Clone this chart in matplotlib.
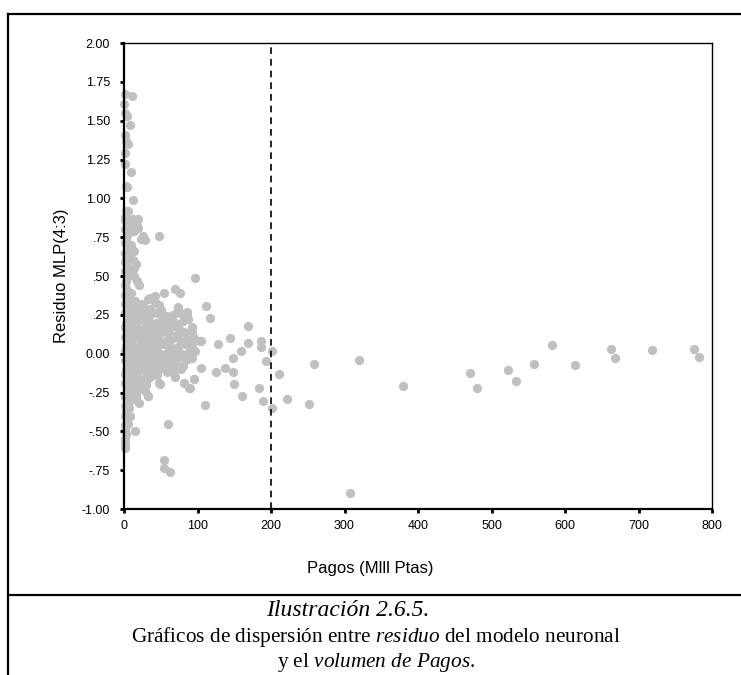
import matplotlib
matplotlib.use("Agg")
import matplotlib.pyplot as plt
from matplotlib.lines import Line2D
import numpy as np

plt.rcParams['font.family'] = ['Liberation Sans', 'DejaVu Sans']
plt.rcParams['mathtext.fontset'] = 'custom'
plt.rcParams['mathtext.rm'] = 'Liberation Serif'
plt.rcParams['mathtext.it'] = 'Liberation Serif:italic'

# puntos pegados al eje (Pagos ~ 0)
pagos_eje = [1, 2, 1, 3, 1, 2, 4, 1, 3, 2, 5, 1, 3, 6, 2, 4, 1, 3, 5, 2, 4, 1, 3, 5, 2,
             4, 1, 3, 5, 2, 4, 1, 3, 2, 4, 1, 3, 5, 2, 4, 1, 3, 2, 5, 1, 3, 6, 2, 4, 1, 3,
             7, 8, 6, 9, 12,
             1, 11, 0.5, 1, 4, 8, 1, 3, 5, 2, 1, 9, 3, 4, 12, 5, 2, 12, 19, 8, 18, 14,
             26, 48, 28, 23, 8, 19, 10, 14, 8, 12, 16, 14, 14, 20, 96, 11, 18, 6]
residuo_eje = [-0.61, -0.58, -0.55, -0.52, -0.49, -0.46, -0.43, -0.40, -0.37, -0.34, -0.31,
               -0.28, -0.25, -0.22, -0.19, -0.16, -0.13, -0.10, -0.07, -0.04, -0.01, 0.02,
               0.05, 0.08, 0.11, 0.14, 0.17, 0.20, 0.23, 0.26, 0.29, 0.32, 0.35, 0.38, 0.41,
               0.44, 0.47, 0.50, 0.53, 0.56, 0.59, 0.62, 0.65, 0.68, 0.71, 0.74, 0.77, 0.80,
               0.84, 0.88, 0.92,
               -0.35, -0.40, -0.45, -0.30, -0.26,
               1.67, 1.66, 1.61, 1.55, 1.53, 1.47, 1.41, 1.37, 1.35, 1.29, 1.22, 1.17, 1.08,
               1.07, 0.99, 0.92, 0.86, 0.87, 0.87, 0.82, 0.82, 0.79, 0.76, 0.76, 0.73, 0.74,
               0.80, 0.81, 0.70, 0.66, 0.63, 0.60, 0.58, 0.55, 0.50, 0.44, 0.485, 0.52, 0.47,
               0.68]

# nube densa (Pagos < 100)
pagos_nube = [8, 15, 24, 33, 42,
              10, 18, 27, 36, 50, 74,
              7, 14, 22, 31, 40, 58, 66, 76, 86,
              9, 17, 25, 34, 44, 52, 62, 70, 80,
              6, 13, 21, 29, 38, 47, 56, 66, 75, 92,
              10, 18, 26, 35, 43, 52, 61, 72, 82, 90,
              7, 15, 23, 31, 40, 49, 58, 67, 77, 86, 95,
              11, 19, 28, 36, 45, 54, 63, 73, 83, 92,
              8, 16, 24, 33, 42, 51, 60, 69, 79, 88, 97,
              12, 20, 29, 38, 47, 56, 65, 75, 84, 93,
              9, 17, 26, 35, 44, 53, 62, 71, 80,
              13, 21, 30, 39, 48, 58, 68, 77,
              10, 18, 27, 36, 45, 69, 95,
              14, 22, 30, 48, 82,
              11, 19, 28, 89,
              9, 16, 33,
              69, 76, 54, 42, 35, 74, 86, 87, 48, 64, 46, 30, 21, 17, 10, 8,
              12, 20, 29, 38, 11, 24, 33, 46, 8, 17, 26, 36, 52, 13, 22, 31, 42, 57,
              9, 19, 28, 39, 49, 14, 23, 34, 44, 10, 20, 30, 41, 15, 25, 7, 16]
residuo_nube = [0.33, 0.34, 0.32, 0.35, 0.33,
                0.29, 0.28, 0.30, 0.29, 0.28, 0.30,
                0.25, 0.26, 0.24, 0.25, 0.26, 0.24, 0.25, 0.26, 0.24,
                0.21, 0.20, 0.22, 0.21, 0.20, 0.22, 0.21, 0.20, 0.21,
                0.17, 0.18, 0.16, 0.17, 0.18, 0.16, 0.17, 0.18, 0.16, 0.17,
                0.13, 0.12, 0.14, 0.13, 0.12, 0.14, 0.13, 0.12, 0.14, 0.13,
                0.09, 0.10, 0.08, 0.09, 0.10, 0.08, 0.09, 0.10, 0.08, 0.09, 0.10,
                0.05, 0.04, 0.06, 0.05, 0.04, 0.06, 0.05, 0.04, 0.06, 0.05,
                0.01, 0.02, 0.00, 0.01, 0.02, 0.00, 0.01, 0.02, 0.00, 0.01, 0.02,
                -0.03, -0.02, -0.04, -0.03, -0.02, -0.04, -0.03, -0.02, -0.04, -0.03,
                -0.07, -0.06, -0.08, -0.07, -0.06, -0.08, -0.07, -0.06, -0.08,
                -0.11, -0.10, -0.12, -0.11, -0.10, -0.12, -0.11, -0.10,
                -0.15, -0.14, -0.16, -0.15, -0.14, -0.15, -0.16,
                -0.19, -0.18, -0.20, -0.19, -0.19,
                -0.23, -0.22, -0.24, -0.22,
                -0.27, -0.28, -0.27,
                0.415, 0.389, 0.389, 0.374, 0.357, 0.281, 0.27, 0.221, 0.313, 0.238, 0.26,
                0.196, 0.238, 0.324, 0.389, 0.303,
                0.31, 0.31, 0.27, 0.27, 0.23, 0.23, 0.23, 0.19, 0.19, 0.19, 0.15, 0.15,
                0.15, 0.11, 0.11, 0.11, 0.07, 0.07, 0.03, 0.03, 0.03, -0.01, -0.01, -0.01,
                -0.05, -0.05, -0.05, -0.09, -0.09, -0.09, -0.13, -0.13, -0.17, -0.21, -0.25]

# puntos dispersos
pagos_disp = [169, 144, 128, 169, 187, 187, 202, 159, 148, 193, 105, 137, 125, 148, 211,
              105, 92, 103, 89, 112, 117,
              201, 189, 184, 161, 149, 222, 252, 258, 110, 95, 90, 82, 49, 30, 69, 33, 21,
              60, 15, 55, 55, 62,
              308, 320, 380, 471, 480, 523, 533, 558, 582, 614, 663, 668, 718, 776, 782]
residuo_disp = [0.18, 0.099, 0.06, 0.067, 0.084, 0.045, 0.017, 0.019, -0.026, -0.047, 0.084,
                -0.09, -0.116, -0.116, -0.131, -0.094, 0.142, 0.084, 0.12, 0.307, 0.232,
                -0.35, -0.305, -0.223, -0.272, -0.197, -0.29, -0.323, -0.067, -0.328, -0.16,
                -0.221, -0.19, -0.197, -0.19, -0.148, -0.272, -0.32, -0.453, -0.496, -0.686,
                -0.736, -0.762,
                -0.90, -0.04, -0.208, -0.124, -0.223, -0.107, -0.174, -0.066, 0.056, -0.075,
                0.032, -0.026, 0.024, 0.032, -0.019]

ytick_vals = [-1.0, -0.75, -0.5, -0.25, 0.0, 0.25, 0.5, 0.75, 1.0, 1.25, 1.5, 1.75, 2.0]
ytick_labels = ['-1.00', '-.75', '-.50', '-.25', '0.00', '.25', '.50', '.75',
                '1.00', '1.25', '1.50', '1.75', '2.00']
xtick_vals = [0, 100, 200, 300, 400, 500, 600, 700, 800]

pagos = np.array(pagos_eje + pagos_nube + pagos_disp)
residuo = np.array(residuo_eje + residuo_nube + residuo_disp)

W, H = 741, 675
fig = plt.figure(figsize=(W / 100, H / 100), dpi=100)
ax = fig.add_axes([124 / W, 1 - 509 / H, 588 / W, 466 / H])

ax.scatter(pagos, residuo, s=44, c='#c0c0c0', marker='o', linewidths=0,
           clip_on=False, zorder=1)
ax.axvline(200, color='black', lw=1.2, ls=(0, (4, 3)), zorder=3)

ax.set_xlim(0, 800)
ax.set_ylim(-1, 2)
ax.set_yticks(ytick_vals)
ax.set_yticklabels(ytick_labels)
ax.set_xticks(xtick_vals)
ax.tick_params(axis='both', direction='out', length=3, width=2, labelsize=9,
               color='black')
ax.tick_params(axis='y', pad=7)
ax.tick_params(axis='x', pad=5)
for side in ['left', 'bottom']:
    ax.spines[side].set_linewidth(1.6)
for side in ['top', 'right']:
    ax.spines[side].set_linewidth(1.0)

ax.set_ylabel('Residuo MLP(4:3)', fontsize=12)
ax.yaxis.set_label_coords((69 - 124) / 588, 0.5)
ax.set_xlabel('Pagos (Mlll Ptas)', fontsize=12)
ax.xaxis.set_label_coords((370 - 124) / 588, -52 / 466)

# marco de la figura
fig.add_artist(Line2D([8 / W, 8 / W], [1 - 14 / H, 0], transform=fig.transFigure,
                      color='black', lw=1.6))
fig.add_artist(Line2D([8 / W, 1], [1 - 14 / H, 1 - 14 / H], transform=fig.transFigure,
                      color='black', lw=1.6))
fig.add_artist(Line2D([8 / W, 1], [1 - 595 / H, 1 - 595 / H], transform=fig.transFigure,
                      color='black', lw=1.6))

serif = ['Liberation Serif', 'DejaVu Serif']
fig.text(348 / W, 1 - 610 / H, 'Ilustración 2.6.5.', family=serif, style='italic',
         fontsize=17, ha='center', va='center')
fig.text(376 / W, 1 - 637 / H,
         r'Gráficos de dispersión entre $\mathit{residuo}$ del modelo neuronal',
         family=serif, fontsize=15.3, ha='center', va='center')
fig.text(376 / W, 1 - 663 / H, r'y el $\mathit{volumen}$ $\mathit{de}$ $\mathit{Pagos}$.',
         family=serif, fontsize=15.3, ha='center', va='center')

fig.savefig('out.png', dpi=100)
